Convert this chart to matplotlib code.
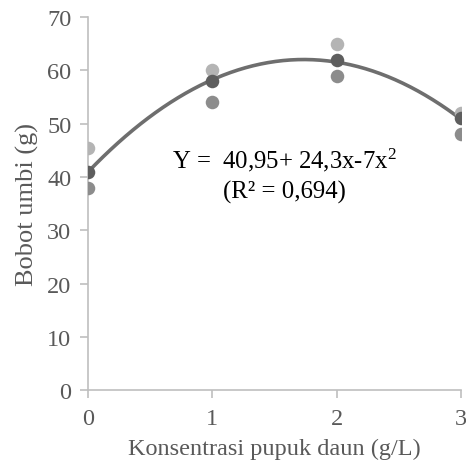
import numpy as np
import matplotlib
matplotlib.use('Agg')
import matplotlib.pyplot as plt

# data
konsentrasi = [0, 1, 2, 3]
ulangan_1 = [45.5, 60, 65, 52]   # light
ulangan_2 = [38, 54, 59, 48]     # medium
rata_rata = [41, 58, 62, 51]     # dark

# trendline coefficients from the equation on the chart: a + b x + c x^2
koef = [40.95, 24.3, -7.0]

yticks = [0, 10, 20, 30, 40, 50, 60, 70]
xticks = [0, 1, 2, 3]

plt.rcParams['font.family'] = ['Liberation Serif', 'DejaVu Serif']
plt.rcParams['mathtext.fontset'] = 'custom'
plt.rcParams['mathtext.rm'] = 'Liberation Serif'
plt.rcParams['mathtext.default'] = 'regular'

text_col = '#595959'
axis_col = '#bfbfbf'

fig = plt.figure(figsize=(4.66, 4.64), dpi=100)
ax = fig.add_axes([0.189, 0.157, 0.800, 0.804])

xs = np.linspace(0, 3, 200)
ys = koef[0] + koef[1] * xs + koef[2] * xs ** 2
ax.plot(xs, ys, color='#6e6e6e', lw=2.6, zorder=2)

ax.scatter(konsentrasi, ulangan_1, s=95, color='#b4b4b4', zorder=3, linewidths=0)
ax.scatter(konsentrasi, ulangan_2, s=95, color='#8c8c8c', zorder=3, linewidths=0)
ax.scatter(konsentrasi, rata_rata, s=95, color='#5e5e5e', zorder=4, linewidths=0)

ax.set_xlim(0, 3)
ax.set_ylim(0, 70)
ax.set_xticks(xticks)
ax.set_yticks(yticks)
for s in ['top', 'right']:
    ax.spines[s].set_visible(False)
for s in ['left', 'bottom']:
    ax.spines[s].set_color(axis_col)
    ax.spines[s].set_linewidth(1.2)
ax.tick_params(colors=text_col, labelsize=17.5, length=6, width=1.2, color=axis_col)
ax.tick_params(axis='x', pad=7)
ax.tick_params(axis='y', pad=6)
for sp in ax.spines.values():
    sp.set_clip_on(False)

ax.set_xlabel('Konsentrasi pupuk daun (g/L)', fontsize=17.5, color=text_col, labelpad=6)
ax.set_ylabel('Bobot umbi (g)', fontsize=19, color=text_col, labelpad=6)

ax.text(1.58, 43.3, 'Y =  40,95+ 24,3x-7x$^{2}$', fontsize=17.8, color='black', ha='center', va='center')
ax.text(1.58, 37.3, '(R\u00b2 = 0,694)', fontsize=17.8, color='black', ha='center', va='center')

fig.savefig('out.png', dpi=100)
